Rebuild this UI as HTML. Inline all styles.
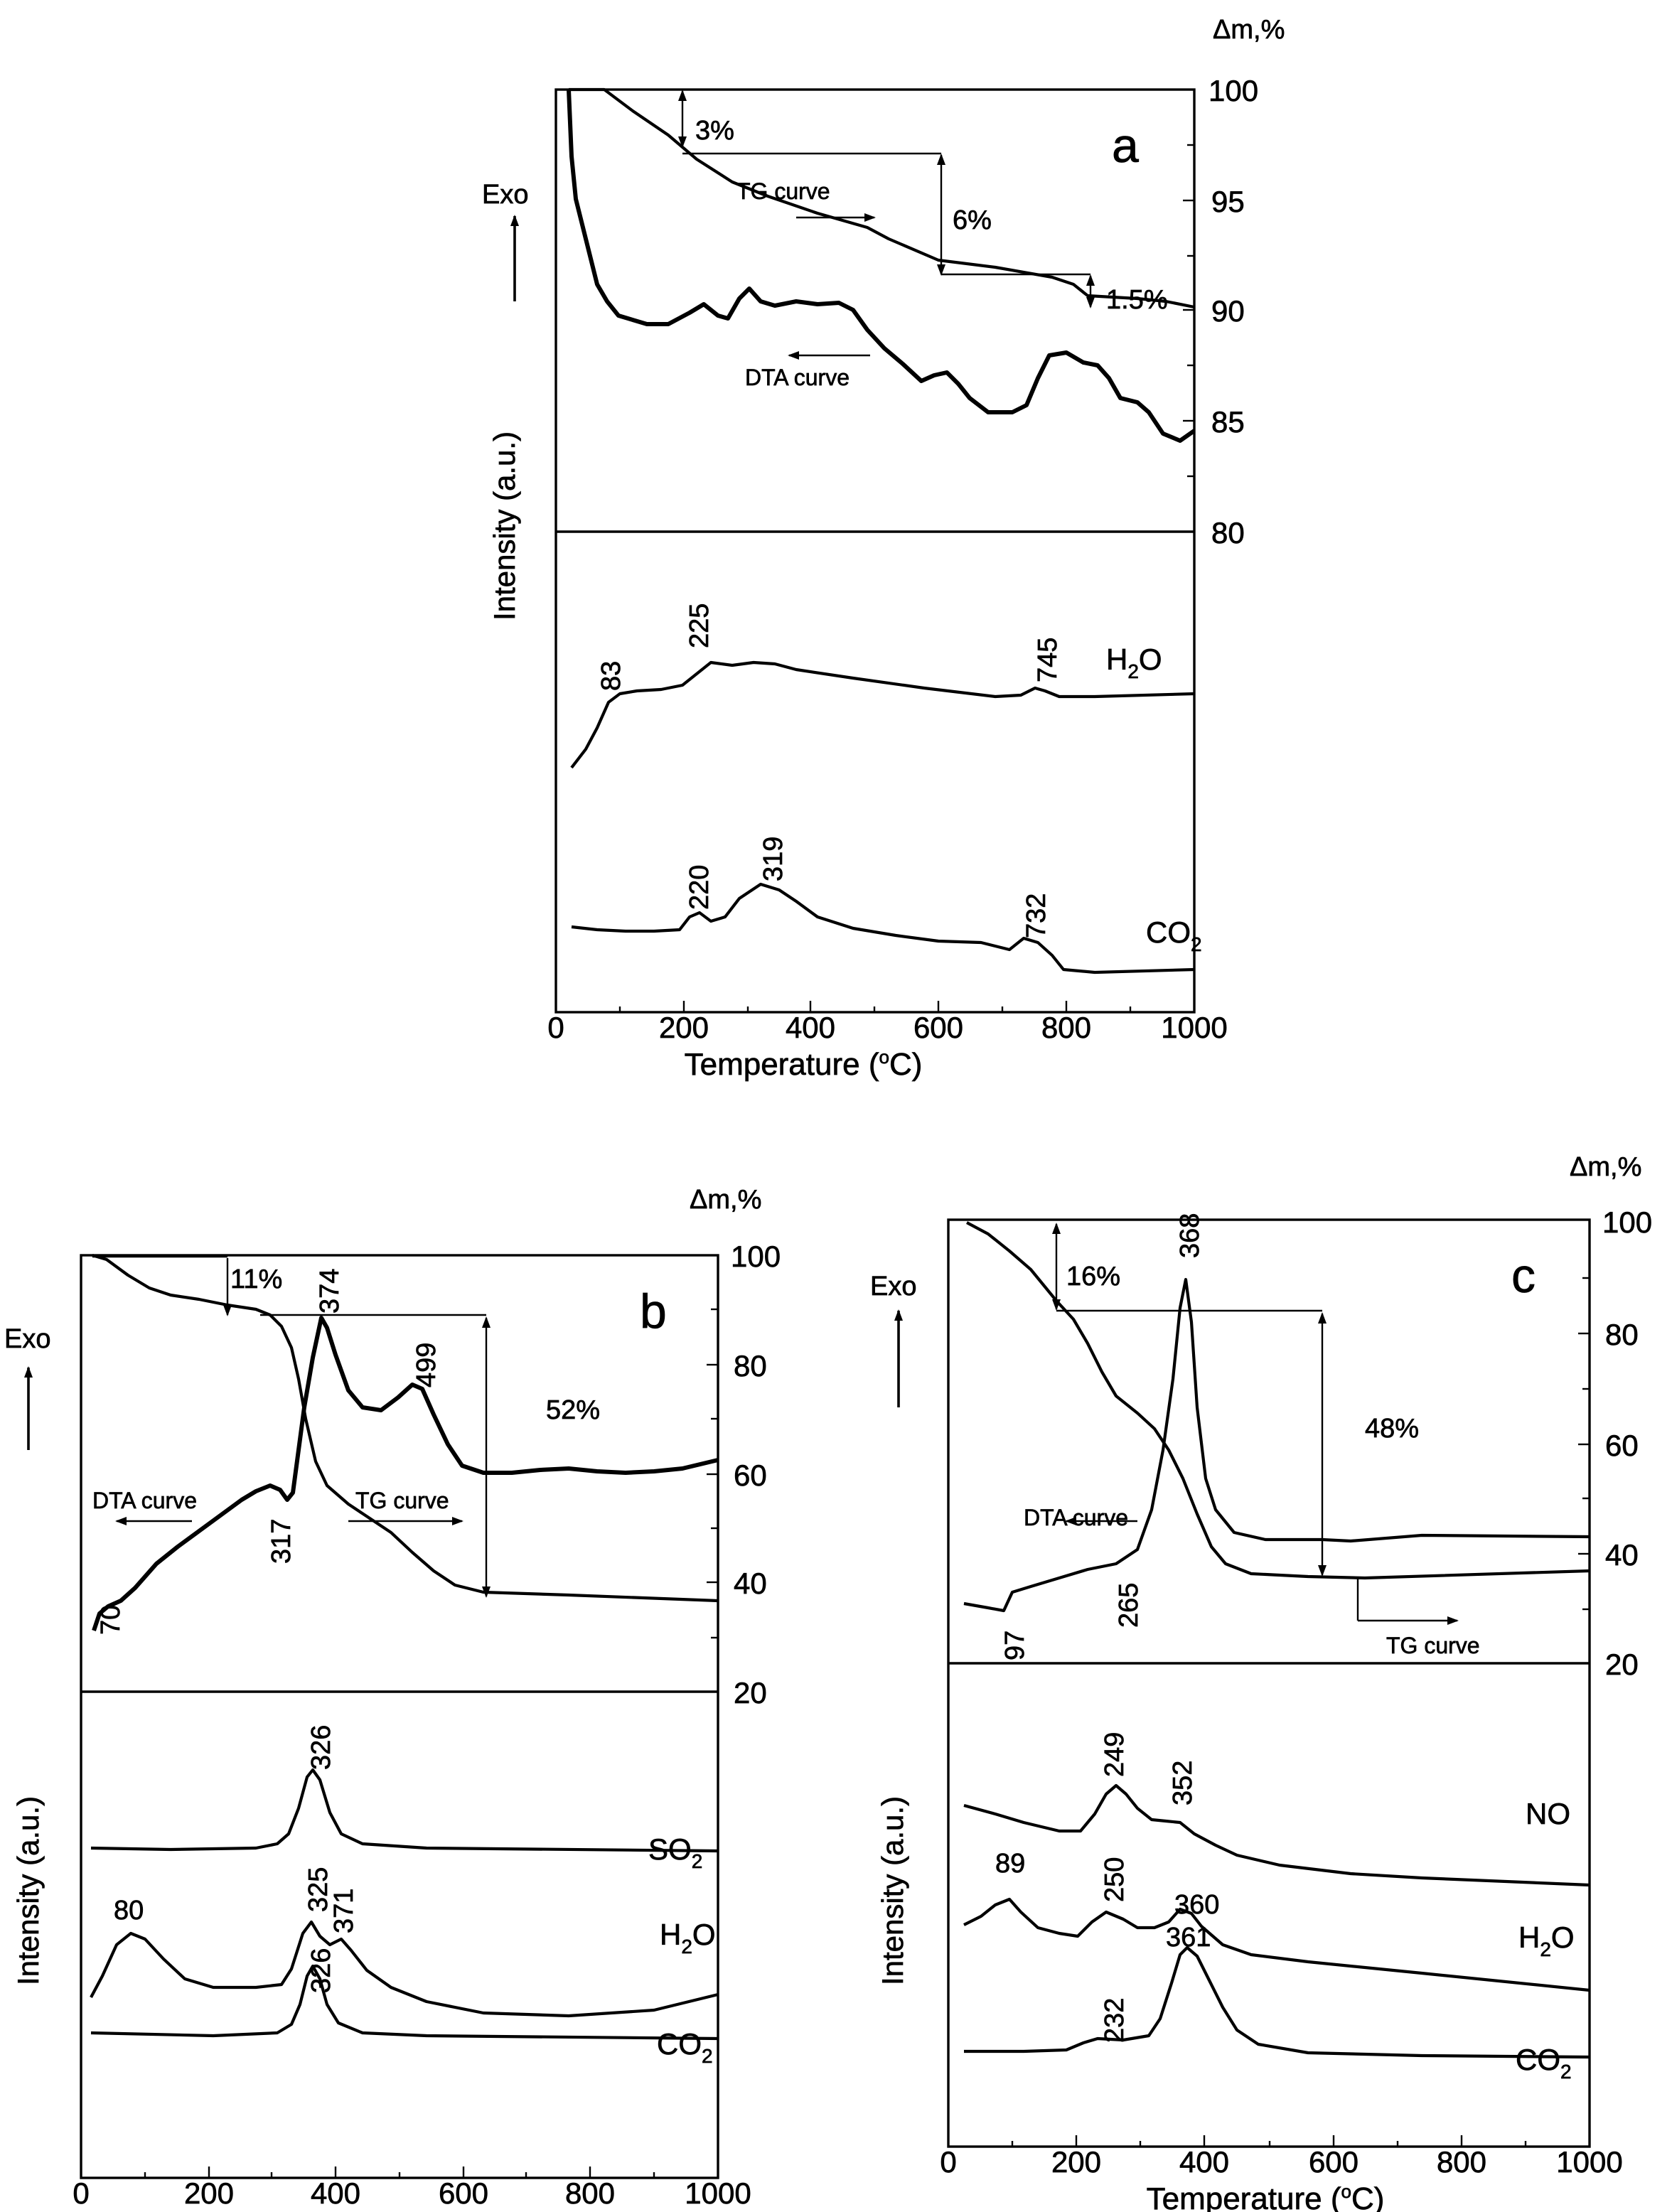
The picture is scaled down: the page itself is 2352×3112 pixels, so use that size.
<!DOCTYPE html>
<html><head><meta charset="utf-8"><style>
html,body{margin:0;padding:0;background:#fff}
svg{display:block}
text{font-family:"Liberation Sans",Arial,sans-serif;fill:#000;stroke:#000;stroke-width:0.35}
.c{fill:none;stroke:#000;stroke-width:2.1;stroke-linejoin:round}
.n{fill:none;stroke:#000;stroke-width:3;stroke-linejoin:round}
.l{stroke:#000;stroke-width:1.2;fill:none}
.ax{fill:none;stroke:#000;stroke-width:1.7}
.t{font-size:21px}
.s{font-size:19px}
.m{font-size:16px}
</style></head><body>
<svg width="2352" height="3112" viewBox="0 0 1176 1556" xmlns="http://www.w3.org/2000/svg">
<defs>
<marker id="ah" markerWidth="8" markerHeight="8" refX="7" refY="4" orient="auto" markerUnits="userSpaceOnUse"><path d="M0,1 L8,4 L0,7 z" fill="#000"/></marker>
<marker id="as" markerWidth="8" markerHeight="8" refX="1" refY="4" orient="auto" markerUnits="userSpaceOnUse"><path d="M8,1 L0,4 L8,7 z" fill="#000"/></marker>
</defs>

<!-- ===== Panel a ===== -->
<rect class="ax" x="391" y="63" width="449" height="649"/>
<line class="ax" x1="391" y1="374" x2="840" y2="374"/>
<g class="l">
<line x1="391" y1="712" x2="391" y2="704"/><line x1="481" y1="712" x2="481" y2="704"/><line x1="570" y1="712" x2="570" y2="704"/><line x1="660" y1="712" x2="660" y2="704"/><line x1="750" y1="712" x2="750" y2="704"/>
<line x1="436" y1="712" x2="436" y2="708"/><line x1="526" y1="712" x2="526" y2="708"/><line x1="615" y1="712" x2="615" y2="708"/><line x1="705" y1="712" x2="705" y2="708"/><line x1="795" y1="712" x2="795" y2="708"/>
<line x1="840" y1="141" x2="832" y2="141"/><line x1="840" y1="218" x2="832" y2="218"/><line x1="840" y1="296" x2="832" y2="296"/>
<line x1="840" y1="102" x2="835" y2="102"/><line x1="840" y1="180" x2="835" y2="180"/><line x1="840" y1="257" x2="835" y2="257"/><line x1="840" y1="335" x2="835" y2="335"/>
</g>
<g class="t" text-anchor="middle">
<text x="391" y="730">0</text><text x="481" y="730">200</text><text x="570" y="730">400</text><text x="660" y="730">600</text><text x="750" y="730">800</text><text x="840" y="730">1000</text>
</g>
<text x="565" y="756" class="t" text-anchor="middle" style="font-size:22px">Temperature (<tspan dy="-8" style="font-size:13px">o</tspan><tspan dy="8">C)</tspan></text>
<g class="t"><text x="850" y="71">100</text><text x="852" y="149">95</text><text x="852" y="226">90</text><text x="852" y="304">85</text><text x="852" y="382">80</text></g>
<text x="853" y="27" class="s">Δm,%</text>
<text x="339" y="143" class="s">Exo</text>
<line class="l" x1="362" y1="212" x2="362" y2="152" marker-end="url(#ah)" style="stroke-width:1.8"/>
<text transform="translate(362,370) rotate(-90)" class="t" text-anchor="middle">Intensity (a.u.)</text>
<text x="782" y="114" style="font-size:34px">a</text>
<polyline class="c" points="400,63 425,63 445,78 470,95 490,112 515,128 540,138 575,150 610,160 625,168 660,183 700,188 740,195 755,200 765,208 800,210 820,212 840,216"/>
<polyline class="n" points="400,63 402,110 405,140 410,160 415,180 420,200 427,212 435,222 455,228 470,228 485,220 495,214 505,222 512,224 520,210 527,203 535,212 545,215 560,212 575,214 590,213 600,218 610,232 622,245 635,256 648,268 657,264 666,262 674,270 682,280 695,290 712,290 722,285 730,266 738,250 750,248 762,255 772,257 780,266 788,280 800,283 808,290 818,305 830,310 840,303"/>
<g class="l">
<line x1="480" y1="64" x2="480" y2="103" marker-start="url(#as)" marker-end="url(#ah)"/>
<line x1="480" y1="108" x2="662" y2="108"/>
<line x1="662" y1="109" x2="662" y2="193" marker-start="url(#as)" marker-end="url(#ah)"/>
<line x1="662" y1="193" x2="767" y2="193"/>
<line x1="767" y1="194" x2="767" y2="216" marker-start="url(#as)" marker-end="url(#ah)"/>
<line x1="560" y1="153" x2="615" y2="153" marker-end="url(#ah)"/>
<line x1="612" y1="250" x2="555" y2="250" marker-end="url(#ah)"/>
</g>
<text x="489" y="98" class="s">3%</text>
<text x="518" y="140" class="m">TG curve</text>
<text x="670" y="161" class="s">6%</text>
<text x="778" y="217" class="s">1.5%</text>
<text x="524" y="271" class="m">DTA curve</text>
<polyline class="c" points="402,540 412,527 420,512 428,494 436,488 448,486 465,485 480,482 490,474 500,466 515,468 530,466 545,467 560,471 600,477 650,484 700,490 718,489 728,484 735,486 745,490 770,490 840,488"/>
<polyline class="c" points="402,652 420,654 440,655 460,655 478,654 485,645 492,642 500,648 510,645 520,632 535,622 548,626 560,634 575,645 600,653 630,658 660,662 690,663 710,668 720,660 730,663 740,672 748,682 770,684 840,682"/>
<g class="s">
<text transform="translate(436,486) rotate(-90)">83</text>
<text transform="translate(498,456) rotate(-90)">225</text>
<text transform="translate(743,480) rotate(-90)">745</text>
<text transform="translate(498,640) rotate(-90)">220</text>
<text transform="translate(550,620) rotate(-90)">319</text>
<text transform="translate(735,660) rotate(-90)">732</text>
</g>
<text x="778" y="471" class="t">H<tspan dy="6" style="font-size:14px">2</tspan><tspan dy="-6">O</tspan></text>
<text x="806" y="663" class="t">CO<tspan dy="6" style="font-size:14px">2</tspan></text>

<!-- ===== Panel b ===== -->
<rect class="ax" x="57" y="883" width="448" height="649"/>
<line class="ax" x1="57" y1="1190" x2="505" y2="1190"/>
<g class="l">
<line x1="57" y1="1532" x2="57" y2="1524"/><line x1="147" y1="1532" x2="147" y2="1524"/><line x1="236" y1="1532" x2="236" y2="1524"/><line x1="326" y1="1532" x2="326" y2="1524"/><line x1="415" y1="1532" x2="415" y2="1524"/>
<line x1="102" y1="1532" x2="102" y2="1528"/><line x1="191" y1="1532" x2="191" y2="1528"/><line x1="281" y1="1532" x2="281" y2="1528"/><line x1="370" y1="1532" x2="370" y2="1528"/><line x1="460" y1="1532" x2="460" y2="1528"/>
<line x1="505" y1="960" x2="497" y2="960"/><line x1="505" y1="1037" x2="497" y2="1037"/><line x1="505" y1="1113" x2="497" y2="1113"/>
<line x1="505" y1="921" x2="500" y2="921"/><line x1="505" y1="998" x2="500" y2="998"/><line x1="505" y1="1075" x2="500" y2="1075"/><line x1="505" y1="1152" x2="500" y2="1152"/>
</g>
<g class="t" text-anchor="middle">
<text x="57" y="1550">0</text><text x="147" y="1550">200</text><text x="236" y="1550">400</text><text x="326" y="1550">600</text><text x="415" y="1550">800</text><text x="505" y="1550">1000</text>
</g>
<text x="285" y="1575" class="t" text-anchor="middle" style="font-size:22px">Temperature (<tspan dy="-8" style="font-size:13px">o</tspan><tspan dy="8">C)</tspan></text>
<g class="t"><text x="514" y="891">100</text><text x="516" y="968">80</text><text x="516" y="1045">60</text><text x="516" y="1121">40</text><text x="516" y="1198">20</text></g>
<text x="485" y="850" class="s">Δm,%</text>
<text x="3" y="948" class="s">Exo</text>
<line class="l" x1="20" y1="1020" x2="20" y2="962" marker-end="url(#ah)" style="stroke-width:1.8"/>
<text transform="translate(27,1330) rotate(-90)" class="t" text-anchor="middle">Intensity (a.u.)</text>
<text x="450" y="934" style="font-size:34px">b</text>
<polyline class="c" points="65,883 75,886 90,897 105,906 120,911 140,914 160,918 180,921 190,925 198,933 205,948 210,970 215,998 222,1028 230,1045 245,1058 260,1068 275,1078 290,1092 305,1105 320,1115 340,1120 400,1122 505,1126"/>
<polyline class="n" points="66,1147 70,1135 76,1130 85,1126 95,1117 110,1100 125,1088 140,1077 155,1066 170,1055 180,1049 190,1045 197,1048 202,1055 206,1050 210,1020 214,990 220,955 226,927 230,934 236,953 245,978 255,990 268,992 280,983 290,974 297,977 305,995 315,1016 325,1031 340,1036 360,1036 380,1034 400,1033 420,1035 440,1036 460,1035 480,1033 505,1027"/>
<g class="l">
<line x1="65" y1="884" x2="160" y2="884"/>
<line x1="160" y1="885" x2="160" y2="925" marker-end="url(#ah)"/>
<line x1="183" y1="925" x2="342" y2="925"/>
<line x1="342" y1="927" x2="342" y2="1123" marker-start="url(#as)" marker-end="url(#ah)"/>
<line x1="135" y1="1070" x2="82" y2="1070" marker-end="url(#ah)"/>
<line x1="245" y1="1070" x2="325" y2="1070" marker-end="url(#ah)"/>
</g>
<text x="162" y="906" class="s">11%</text>
<text x="384" y="998" class="s">52%</text>
<text x="65" y="1061" class="m">DTA curve</text>
<text x="250" y="1061" class="m">TG curve</text>
<g class="s">
<text transform="translate(238,924) rotate(-90)">374</text>
<text transform="translate(306,976) rotate(-90)">499</text>
<text transform="translate(204,1100) rotate(-90)">317</text>
<text transform="translate(84,1150) rotate(-90)">70</text>
<text transform="translate(232,1245) rotate(-90)">326</text>
<text transform="translate(230,1345) rotate(-90)">325</text>
<text transform="translate(248,1360) rotate(-90)">371</text>
<text transform="translate(232,1402) rotate(-90)">326</text>
<text x="80" y="1350">80</text>
</g>
<polyline class="c" points="64,1300 120,1301 180,1300 195,1297 203,1290 210,1272 216,1250 220,1245 225,1252 232,1275 240,1290 255,1297 300,1300 505,1302"/>
<polyline class="c" points="64,1405 72,1390 82,1368 92,1360 102,1364 115,1378 130,1392 150,1398 180,1398 198,1396 205,1385 213,1360 219,1352 225,1362 232,1368 240,1364 247,1372 258,1386 275,1398 300,1408 340,1416 400,1418 460,1414 505,1403"/>
<polyline class="c" points="64,1430 150,1432 195,1430 205,1424 211,1410 216,1390 220,1383 225,1392 230,1410 238,1423 255,1430 300,1432 505,1434"/>
<text x="456" y="1308" class="t">SO<tspan dy="6" style="font-size:14px">2</tspan></text>
<text x="464" y="1368" class="t">H<tspan dy="6" style="font-size:14px">2</tspan><tspan dy="-6">O</tspan></text>
<text x="462" y="1445" class="t">CO<tspan dy="6" style="font-size:14px">2</tspan></text>

<!-- ===== Panel c ===== -->
<rect class="ax" x="667" y="858" width="451" height="652"/>
<line class="ax" x1="667" y1="1170" x2="1118" y2="1170"/>
<g class="l">
<line x1="667" y1="1510" x2="667" y2="1502"/><line x1="757" y1="1510" x2="757" y2="1502"/><line x1="847" y1="1510" x2="847" y2="1502"/><line x1="938" y1="1510" x2="938" y2="1502"/><line x1="1028" y1="1510" x2="1028" y2="1502"/>
<line x1="712" y1="1510" x2="712" y2="1506"/><line x1="802" y1="1510" x2="802" y2="1506"/><line x1="893" y1="1510" x2="893" y2="1506"/><line x1="983" y1="1510" x2="983" y2="1506"/><line x1="1073" y1="1510" x2="1073" y2="1506"/>
<line x1="1118" y1="938" x2="1110" y2="938"/><line x1="1118" y1="1016" x2="1110" y2="1016"/><line x1="1118" y1="1093" x2="1110" y2="1093"/>
<line x1="1118" y1="899" x2="1113" y2="899"/><line x1="1118" y1="977" x2="1113" y2="977"/><line x1="1118" y1="1054" x2="1113" y2="1054"/><line x1="1118" y1="1132" x2="1113" y2="1132"/>
</g>
<g class="t" text-anchor="middle">
<text x="667" y="1528">0</text><text x="757" y="1528">200</text><text x="847" y="1528">400</text><text x="938" y="1528">600</text><text x="1028" y="1528">800</text><text x="1118" y="1528">1000</text>
</g>
<text x="890" y="1554" class="t" text-anchor="middle" style="font-size:22px">Temperature (<tspan dy="-8" style="font-size:13px">o</tspan><tspan dy="8">C)</tspan></text>
<g class="t"><text x="1127" y="867">100</text><text x="1129" y="946">80</text><text x="1129" y="1024">60</text><text x="1129" y="1101">40</text><text x="1129" y="1178">20</text></g>
<text x="1104" y="827" class="s">Δm,%</text>
<text x="612" y="911" class="s">Exo</text>
<line class="l" x1="632" y1="990" x2="632" y2="922" marker-end="url(#ah)" style="stroke-width:1.8"/>
<text transform="translate(635,1330) rotate(-90)" class="t" text-anchor="middle">Intensity (a.u.)</text>
<text x="1063" y="909" style="font-size:34px">c</text>
<polyline class="c" points="680,860 695,868 710,880 725,893 743,915 755,928 765,945 775,965 785,982 800,994 812,1005 822,1020 832,1040 842,1065 852,1088 862,1100 880,1107 920,1109 960,1110 1118,1105"/>
<polyline class="c" points="678,1128 695,1131 706,1133 712,1120 725,1116 745,1110 765,1104 785,1100 800,1090 810,1062 818,1020 825,970 830,920 834,900 838,930 842,990 848,1040 855,1062 868,1078 890,1083 930,1083 950,1084 1000,1080 1118,1081"/>
<g class="l">
<line x1="743" y1="861" x2="743" y2="921" marker-start="url(#as)" marker-end="url(#ah)"/>
<line x1="743" y1="922" x2="930" y2="922"/>
<line x1="930" y1="924" x2="930" y2="1108" marker-start="url(#as)" marker-end="url(#ah)"/>
<line x1="800" y1="1070" x2="750" y2="1070" marker-end="url(#ah)"/>
<line x1="955" y1="1110" x2="955" y2="1140"/>
<line x1="955" y1="1140" x2="1025" y2="1140" marker-end="url(#ah)"/>
</g>
<text x="750" y="904" class="s">16%</text>
<text x="960" y="1011" class="s">48%</text>
<text x="720" y="1073" class="m">DTA curve</text>
<text x="975" y="1163" class="m">TG curve</text>
<g class="s">
<text transform="translate(843,885) rotate(-90)">368</text>
<text transform="translate(720,1168) rotate(-90)">97</text>
<text transform="translate(800,1145) rotate(-90)">265</text>
<text transform="translate(790,1250) rotate(-90)">249</text>
<text transform="translate(838,1270) rotate(-90)">352</text>
<text x="700" y="1317">89</text>
<text transform="translate(790,1338) rotate(-90)">250</text>
<text transform="translate(826,1346)">360</text>
<text transform="translate(820,1369)">361</text>
<text transform="translate(790,1437) rotate(-90)">232</text>
</g>
<polyline class="c" points="678,1270 700,1276 720,1282 745,1288 760,1288 770,1276 778,1262 785,1256 792,1262 800,1272 810,1280 820,1281 830,1282 840,1290 855,1298 870,1305 900,1312 950,1318 1000,1321 1118,1326"/>
<polyline class="c" points="678,1354 690,1348 700,1340 710,1336 718,1345 730,1356 745,1360 758,1362 768,1352 778,1345 790,1350 800,1356 812,1356 822,1352 830,1343 838,1346 845,1355 860,1368 880,1375 920,1380 1000,1388 1118,1400"/>
<polyline class="c" points="678,1443 720,1443 750,1442 762,1437 772,1434 790,1435 808,1432 816,1420 824,1395 830,1375 835,1370 842,1376 850,1392 860,1412 870,1428 885,1438 920,1444 1000,1446 1118,1447"/>
<text x="1073" y="1283" class="t">NO</text>
<text x="1068" y="1370" class="t">H<tspan dy="6" style="font-size:14px">2</tspan><tspan dy="-6">O</tspan></text>
<text x="1066" y="1456" class="t">CO<tspan dy="6" style="font-size:14px">2</tspan></text>
</svg>
</body></html>
